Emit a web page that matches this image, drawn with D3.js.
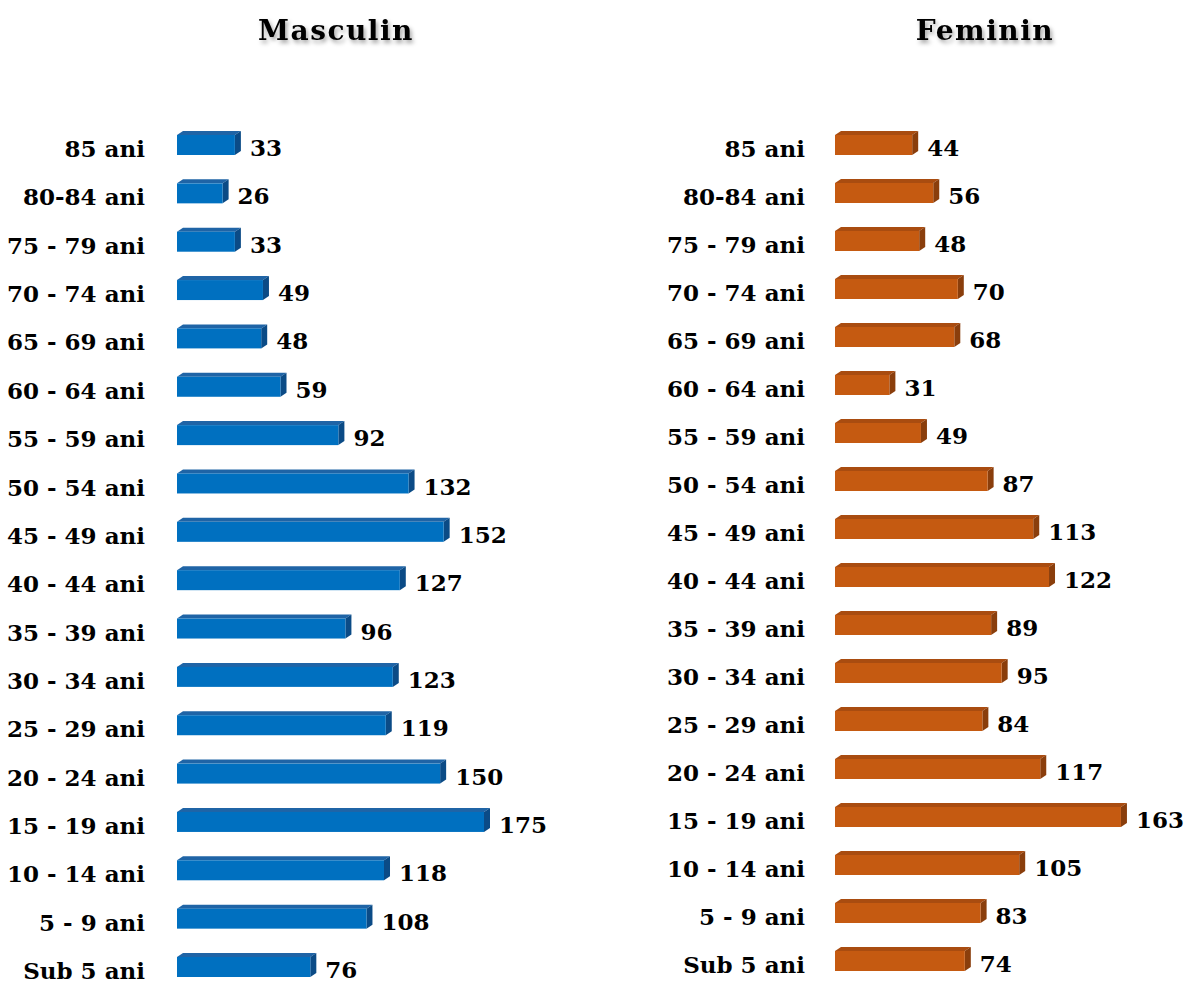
<!DOCTYPE html>
<html><head><meta charset="utf-8">
<script src="https://cdn.jsdelivr.net/npm/d3@7"></script>
<style>
html,body{margin:0;padding:0;background:#fff;}
svg{display:block;}
</style></head>
<body>
<svg id="chart" width="1190" height="983"></svg>
<script>
const categories = ["85 ani","80-84 ani","75 - 79 ani","70 - 74 ani","65 - 69 ani","60 - 64 ani","55 - 59 ani","50 - 54 ani","45 - 49 ani","40 - 44 ani","35 - 39 ani","30 - 34 ani","25 - 29 ani","20 - 24 ani","15 - 19 ani","10 - 14 ani","5 - 9 ani","Sub 5 ani"];
const maleValues = [33,26,33,49,48,59,92,132,152,127,96,123,119,150,175,118,108,76];
const femaleValues = [44,56,48,70,68,31,49,87,113,122,89,95,84,117,163,105,83,74];
const titles = ["Masculin","Feminin"];

const svg = d3.select("#chart");
const defs = svg.append("defs");
const f = defs.append("filter").attr("id","shadow").attr("x","-10%").attr("y","-30%").attr("width","130%").attr("height","180%");
f.append("feDropShadow").attr("dx",2).attr("dy",3).attr("stdDeviation",2).attr("flood-color","#000").attr("flood-opacity",0.35);

const font = "'DejaVu Serif', serif";

const panels = [
  {title: titles[0], values: maleValues, x0: 177, labelX: 145, yTop: 145, yBot: 967, titleX: 336,
   front: "#0070C0", top: "#1F64A6", side: "#0B4B86"},
  {title: titles[1], values: femaleValues, x0: 835, labelX: 805, yTop: 145, yBot: 961, titleX: 985,
   front: "#C55A11", top: "#A94C10", side: "#8A3E0C"}
];

const dx = 6, dy = 4, barH = 20;

panels.forEach(p => {
  const x = d3.scaleLinear().domain([0, 175]).range([p.x0, p.x0 + 307]);
  const y = d3.scalePoint().domain(categories).range([p.yTop, p.yBot]);
  const g = svg.append("g");

  g.append("text").attr("x", p.titleX).attr("y", 40)
    .attr("text-anchor","middle")
    .attr("font-family", font).attr("font-weight","bold").attr("font-size", 28)
    .attr("letter-spacing", 1.5).attr("filter","url(#shadow)")
    .text(p.title);

  const rows = g.selectAll("g.row").data(categories.map((c,i)=>({c, v:p.values[i]})))
    .enter().append("g").attr("class","row");

  rows.append("polygon")
    .attr("points", d => {
      const x1 = x(0), x2 = x(d.v), yt = y(d.c) - barH/2;
      return [[x1,yt],[x1+dx,yt-dy],[x2+dx,yt-dy],[x2,yt]].map(q=>q.join(",")).join(" ");
    })
    .attr("fill", p.top);
  rows.append("polygon")
    .attr("points", d => {
      const x2 = x(d.v), yt = y(d.c) - barH/2, yb = yt + barH;
      return [[x2,yt],[x2+dx,yt-dy],[x2+dx,yb-dy],[x2,yb]].map(q=>q.join(",")).join(" ");
    })
    .attr("fill", p.side);
  rows.append("rect")
    .attr("x", x(0)).attr("y", d => y(d.c) - barH/2)
    .attr("width", d => x(d.v) - x(0)).attr("height", barH)
    .attr("fill", p.front);

  rows.append("text")
    .attr("x", p.labelX).attr("y", d => y(d.c) + 4).attr("dy","0.35em")
    .attr("text-anchor","end")
    .attr("font-family", font).attr("font-weight","bold").attr("font-size", 23)
    .attr("fill","#000")
    .text(d => d.c);

  rows.append("text")
    .attr("x", d => x(d.v) + dx + 9).attr("y", d => y(d.c) + 3).attr("dy","0.35em")
    .attr("font-family", font).attr("font-weight","bold").attr("font-size", 23)
    .attr("fill","#000")
    .text(d => d.v);
});
</script>
</body></html>
